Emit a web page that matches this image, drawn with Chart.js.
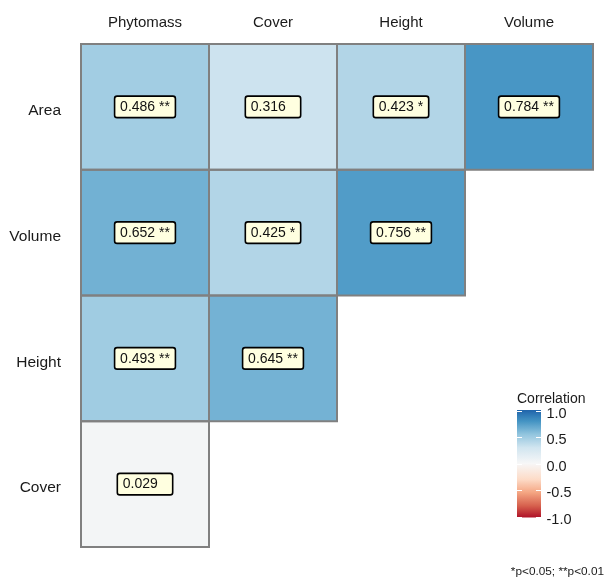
<!DOCTYPE html>
<html>
<head>
<meta charset="utf-8">
<script src="https://cdn.jsdelivr.net/npm/chart.js@4/dist/chart.umd.min.js"></script>
<style>
  html, body { margin: 0; padding: 0; background: #fff; }
  #wrap { width: 605px; height: 577px; position: relative; }
</style>
</head>
<body>
<div id="wrap"><canvas id="myChart"></canvas></div>
<script>
// correlation matrix (upper triangle as plotted), rows top to bottom
const rows = ['Area', 'Volume', 'Height', 'Cover'];
const cols = ['Phytomass', 'Cover', 'Height', 'Volume'];

const rArea   = [0.486, 0.316, 0.423, 0.784];
const rVolume = [0.652, 0.425, 0.756, null];
const rHeight = [0.493, 0.645, null, null];
const rCover  = [0.029, null, null, null];

const sigArea   = ['**', '', '*', '**'];
const sigVolume = ['**', '*', '**', null];
const sigHeight = ['**', '**', null, null];
const sigCover  = ['', null, null, null];

const legendTicks = [1.0, 0.5, 0.0, -0.5, -1.0];
const footnote = '*p<0.05; **p<0.01';

const corrRows = [rArea, rVolume, rHeight, rCover];
const sigRows = [sigArea, sigVolume, sigHeight, sigCover];

// RdBu-like colour ramp
const palette = [
    [-1, '#B2182B'], [-0.8, '#D6604D'], [-0.55, '#F4A582'], [-0.3, '#FDDBC7'],
    [0, '#F7F7F7'], [0.3, '#D1E5F0'], [0.55, '#92C5DE'], [0.8, '#4393C3'], [1, '#2166AC']
];

function hex2rgb(h) {
    return [parseInt(h.slice(1, 3), 16), parseInt(h.slice(3, 5), 16), parseInt(h.slice(5, 7), 16)];
}

function corrColor(v) {
    for (let i = 1; i < palette.length; i++) {
        if (v <= palette[i][0]) {
            const [v0, c0] = palette[i - 1];
            const [v1, c1] = palette[i];
            const t = (v - v0) / (v1 - v0);
            const a = hex2rgb(c0), b = hex2rgb(c1);
            const c = a.map((x, k) => Math.round(x + (b[k] - x) * t));
            return `rgb(${c[0]},${c[1]},${c[2]})`;
        }
    }
    return palette[palette.length - 1][1];
}

const datasets = rows.map((name, i) => ({
    label: name,
    data: corrRows[i].map(v => (v == null ? null : [i, i + 1])),
    corr: corrRows[i],
    sig: sigRows[i],
    backgroundColor: c => corrColor(corrRows[i][c.dataIndex] ?? 0),
    borderWidth: 0,
    grouped: false,
    barPercentage: 1,
    categoryPercentage: 1,
}));

const cellPlugin = {
    id: 'cells',
    afterDatasetsDraw(chart) {
        const ctx = chart.ctx;
        const cells = [];
        chart.data.datasets.forEach((ds, di) => {
            chart.getDatasetMeta(di).data.forEach((bar, j) => {
                if (ds.corr[j] == null) return;
                const p = bar.getProps(['x', 'y', 'base', 'width'], true);
                cells.push({ p, v: ds.corr[j], s: ds.sig[j] });
            });
        });
        ctx.save();
        // cell borders
        ctx.strokeStyle = '#808080';
        ctx.lineWidth = 2;
        cells.forEach(({ p }) => {
            const top = Math.min(p.y, p.base);
            ctx.strokeRect(p.x - p.width / 2, top, p.width, Math.abs(p.base - p.y));
        });
        // value labels
        ctx.font = '14px "Liberation Sans", Arial, sans-serif';
        ctx.textBaseline = 'middle';
        ctx.textAlign = 'left';
        cells.forEach(({ p, v, s }) => {
            const txt = v.toFixed(3) + (s ? ' ' + s : '');
            const w = Math.max(ctx.measureText(txt).width, ctx.measureText(v.toFixed(3) + ' *').width) + 11;
            const h = 21.5;
            const cx = p.x, cy = (p.y + p.base) / 2;
            const x0 = cx - w / 2, y0 = cy - h / 2;
            ctx.beginPath();
            ctx.roundRect(x0, y0, w, h, 2.5);
            ctx.fillStyle = '#FFFFE0';
            ctx.fill();
            ctx.lineWidth = 1.6;
            ctx.strokeStyle = '#000';
            ctx.stroke();
            ctx.fillStyle = '#111';
            ctx.fillText(txt, x0 + 5.5, cy + 0.5);
        });
        ctx.restore();
    },
    afterDraw(chart) {
        const ctx = chart.ctx;
        const bx = 517, bw = 24, yTop = 410.5, yBot = 516.5;
        const yOf = v => yTop + (1 - v) / 2 * (yBot - yTop);
        ctx.save();
        ctx.fillStyle = '#1a1a1a';
        ctx.font = '14px "Liberation Sans", Arial, sans-serif';
        ctx.textBaseline = 'alphabetic';
        ctx.textAlign = 'left';
        ctx.fillText('Correlation', bx, 403);
        const g = ctx.createLinearGradient(0, yTop, 0, yBot);
        for (let k = 0; k <= 40; k++) {
            const v = 1 - k / 20;
            g.addColorStop(k / 40, corrColor(v));
        }
        ctx.fillStyle = g;
        ctx.fillRect(bx, yTop - 0.5, bw, yBot - yTop + 1.5);
        ctx.strokeStyle = '#fff';
        ctx.lineWidth = 1;
        ctx.font = '14.5px "Liberation Sans", Arial, sans-serif';
        ctx.textBaseline = 'middle';
        legendTicks.forEach(v => {
            const y = Math.round(yOf(v)) + 0.5;
            ctx.beginPath();
            ctx.moveTo(bx, y); ctx.lineTo(bx + 5, y);
            ctx.moveTo(bx + bw - 5, y); ctx.lineTo(bx + bw, y);
            ctx.stroke();
            ctx.fillStyle = '#1a1a1a';
            ctx.fillText(v.toFixed(1), bx + 29.5, y + 2.5);
        });
        ctx.font = '11.8px "Liberation Sans", Arial, sans-serif';
        ctx.textAlign = 'right';
        ctx.fillText(footnote, 604, 572);
        ctx.restore();
    }
};

const ctx = document.getElementById('myChart').getContext('2d');
const myChart = new Chart(ctx, {
    type: 'bar',
    data: { labels: cols, datasets: datasets },
    options: {
        responsive: true,
        maintainAspectRatio: false,
        animation: false,
        layout: { padding: { left: 0, right: 12, top: 0, bottom: 30 } },
        plugins: {
            legend: { display: false },
            tooltip: { enabled: false },
        },
        scales: {
            x: {
                type: 'category',
                position: 'top',
                grid: { display: false, drawTicks: false },
                border: { display: false },
                ticks: {
                    color: '#1a1a1a',
                    font: { family: '"Liberation Sans", Arial, sans-serif', size: 15 },
                    padding: 12,
                    maxRotation: 0,
                },
                afterFit: s => { s.height = 44; },
            },
            y: {
                type: 'linear',
                min: 0,
                max: 4,
                reverse: true,
                grid: { display: false, drawTicks: false },
                border: { display: false },
                afterBuildTicks: s => { s.ticks = rows.map((r, i) => ({ value: i + 0.5 })); },
                ticks: {
                    color: '#1a1a1a',
                    font: { family: '"Liberation Sans", Arial, sans-serif', size: 15.5 },
                    padding: 20,
                    labelOffset: 4,
                    callback: v => rows[Math.floor(v)],
                },
                afterFit: s => { s.width = 81; },
            },
        },
    },
    plugins: [cellPlugin],
});
</script>
</body>
</html>
